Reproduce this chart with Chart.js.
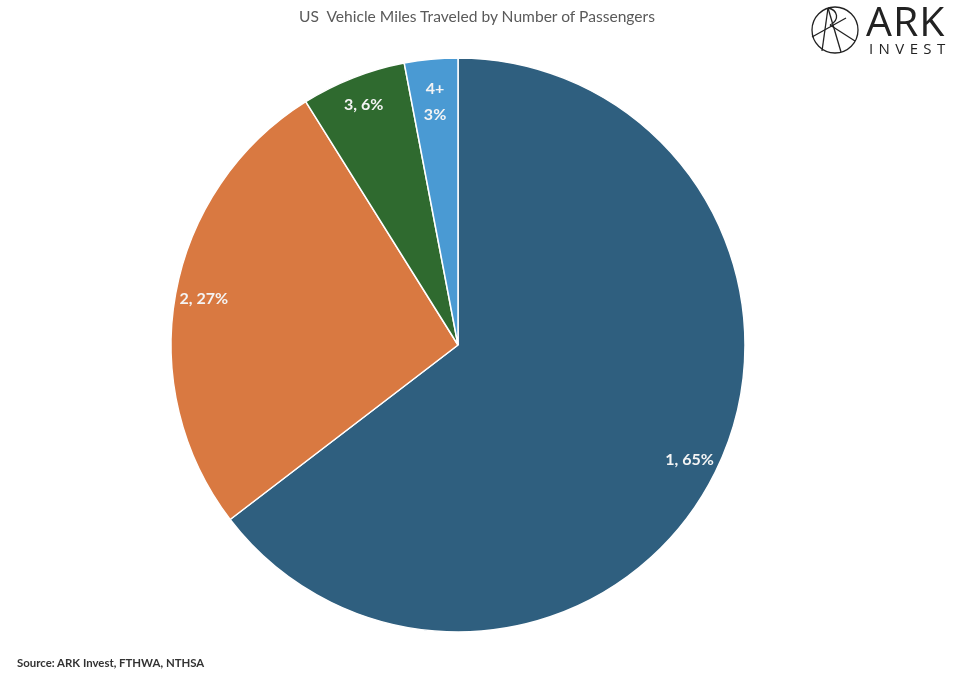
<!DOCTYPE html>
<html>
<head>
<meta charset="utf-8">
<script src="https://cdn.jsdelivr.net/npm/chart.js@4.4.1/dist/chart.umd.min.js"></script>
<style>
  body { margin: 0; background: #fff; width: 960px; height: 677px; overflow: hidden; position: relative; font-family: Lato, "Open Sans", sans-serif; }
  #titulo { position: absolute; top: 7px; left: 0; width: 954px; text-align: center; font-size: 15.6px; color: #5a5a5a; white-space: pre; }
  #fuente { position: absolute; left: 17px; top: 656px; font-size: 11.4px; font-weight: bold; color: #333; }
  #logo { position: absolute; left: 808px; top: 4px; }
  #ark { position: absolute; left: 866px; top: 0px; font-family: "Open Sans", sans-serif; font-weight: 400; font-size: 41px; letter-spacing: 1px; color: #222; line-height: 1; }
  #invest { position: absolute; left: 869px; top: 41px; font-family: "Open Sans", sans-serif; font-weight: 400; font-size: 15px; letter-spacing: 5.4px; color: #222; line-height: 1; }
  #miGrafico { position: absolute; left: 0; top: 0; }
</style>
</head>
<body>
<canvas id="miGrafico" width="960" height="677"></canvas>
<div id="titulo">US  Vehicle Miles Traveled by Number of Passengers</div>
<svg id="logo" width="54" height="54" viewBox="0 0 54 54">
  <g fill="none" stroke="#222" stroke-width="1.3">
    <circle cx="27" cy="26" r="23"/>
    <line x1="20" y1="4" x2="14" y2="47"/>
    <line x1="20" y1="4" x2="33" y2="48"/>
    <line x1="4" y1="33" x2="38" y2="14"/>
    <line x1="22" y1="21" x2="47" y2="37"/>
    <path d="M20 4 C30 6 32 16 22 21"/>
  </g>
</svg>
<div id="ark">ARK</div>
<div id="invest">INVEST</div>
<div id="fuente">Source: ARK Invest, FTHWA, NTHSA</div>

<script>
const pasajeros = ['1', '2', '3', '4+'];
const valores = [64.6, 26.5, 5.9, 3.0];
const porcentajes = ['65%', '27%', '6%', '3%'];
const colores = ['#2f5f7f', '#d97941', '#2f6a2f', '#4a9ad3'];

// dibuja las etiquetas dentro de cada porción
const etiquetasPlugin = {
    id: 'etiquetas',
    afterDatasetsDraw(chart) {
        const ctx = chart.ctx;
        const arcos = chart.getDatasetMeta(0).data;
        ctx.save();
        ctx.fillStyle = '#f4f4f4';
        ctx.font = 'bold 16px Lato, "Open Sans", sans-serif';
        ctx.textAlign = 'center';
        ctx.textBaseline = 'middle';
        arcos.forEach((arco, i) => {
            const { x, y, startAngle, endAngle, outerRadius } = arco.getProps(['x', 'y', 'startAngle', 'endAngle', 'outerRadius']);
            const medio = (startAngle + endAngle) / 2;
            const angulo = endAngle - startAngle;
            const estrecho = angulo < 0.25;
            const r = outerRadius * (estrecho ? 0.85 : 0.9);
            const px = x + Math.cos(medio) * r;
            const py = y + Math.sin(medio) * r;
            if (estrecho) {
                ctx.fillText(pasajeros[i], px, py - 13);
                ctx.fillText(porcentajes[i], px, py + 13);
            } else {
                ctx.fillText(`${pasajeros[i]}, ${porcentajes[i]}`, px, py);
            }
        });
        ctx.restore();
    }
};

const ctx = document.getElementById('miGrafico').getContext('2d');
new Chart(ctx, {
    type: 'pie',
    data: {
        labels: pasajeros,
        datasets: [{
            data: valores,
            backgroundColor: colores,
            borderColor: '#ffffff',
            borderWidth: 1.5
        }]
    },
    options: {
        responsive: false,
        animation: false,
        radius: 287,
        layout: { padding: { left: 171, right: 215, top: 58, bottom: 45 } },
        plugins: {
            legend: { display: false },
            tooltip: { enabled: false }
        }
    },
    plugins: [etiquetasPlugin]
});
</script>
</body>
</html>
